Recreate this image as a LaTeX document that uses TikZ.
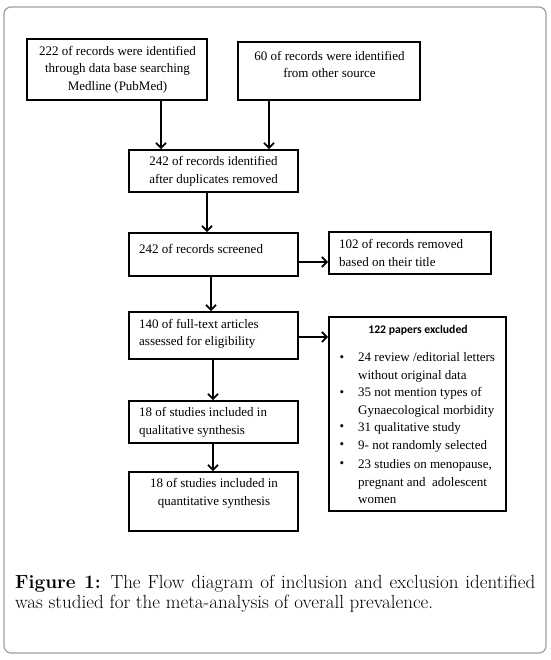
\documentclass[tikz,border=0pt]{standalone}
\usepackage{fontspec}
\setmainfont{Liberation Serif}
\newfontfamily\titlefont{Carlito}
\newfontfamily\capfont{Latin Modern Roman}
\usetikzlibrary{arrows.meta,calc}
\begin{document}
\begin{tikzpicture}[x=1pt,y=-1pt,
  box/.style={draw=black, line width=1.8pt, rectangle, inner sep=0pt},
  txt/.style={inner sep=0pt, font=\fontsize{13}{17.5}\selectfont},
  ctxt/.style={txt, align=center},
  ltxt/.style={txt, align=left, anchor=west},
  arr/.style={line width=1.8pt, -{Straight Barb[length=5pt,width=10pt,line width=1.8pt]}},
  bul/.style={inner sep=0pt, font=\fontsize{13}{17.5}\selectfont}
]
\useasboundingbox (0,0) rectangle (550,660);
\fill[white] (0,0) rectangle (550,660);
\draw[gray!75, line width=1.2pt, rounded corners=7pt] (4,7) rectangle (546,653);

% boxes
\node[box, minimum width=180pt, minimum height=61pt] (A) at (117,69.5) {};
\node[box, minimum width=182pt, minimum height=58pt] (B) at (329,71) {};
\node[box, minimum width=169pt, minimum height=42pt] (C) at (213.5,171) {};
\node[box, minimum width=169pt, minimum height=43pt] (D) at (213.5,254.5) {};
\node[box, minimum width=162pt, minimum height=42pt] (E) at (410,253) {};
\node[box, minimum width=169pt, minimum height=47pt] (F) at (213.5,335.5) {};
\node[box, minimum width=177pt, minimum height=194pt] (G) at (417.5,414) {};
\node[box, minimum width=169pt, minimum height=42pt] (H) at (213.5,422) {};
\node[box, minimum width=169pt, minimum height=59pt] (I) at (213.5,501.5) {};

% texts
\node[ctxt] (tA) at (117.5,69.7) {222 of records were identified\\through data base searching\\Medline (PubMed)};
\node[ctxt] (tB) at (329.5,64.5) {60 of records were identified\\from other source};
\node[ctxt] (tC) at (213.5,171.5) {242 of records identified\\after duplicates removed};
\node[ltxt] (tD) at (139,249) {242 of records screened};
\node[ltxt] (tE) at (339,253) {102 of records removed\\based on their title};
\node[ltxt] (tF) at (139,334) {140 of full-text articles\\assessed for eligibility};
\node[ltxt] (tH) at (139,422.5) {18 of studies included in\\qualitative synthesis};
\node[ctxt] (tI) at (214,493.5) {18 of studies included in\\quantitative synthesis};

\node[inner sep=0pt, font=\titlefont\bfseries\fontsize{11.7}{14}\selectfont] (tG) at (418,330) {122 papers excluded};
\node[ltxt] (g1) at (358,367.5) {24 review /editorial letters\\without original data};
\node[ltxt] (g2) at (358,402.5) {35 not mention types of\\Gynaecological morbidity};
\node[ltxt] (g3) at (358,428) {31 qualitative study};
\node[ltxt] (g4) at (358,446) {9- not randomly selected};
\node[ltxt] (g5) at (358,482) {23 studies on menopause,\\pregnant and\ \ adolescent\\women};
\node[bul] (b1) at (342,359) {•};
\node[bul] (b2) at (342,394) {•};
\node[bul] (b3) at (342,428) {•};
\node[bul] (b4) at (342,446) {•};
\node[bul] (b5) at (342,465) {•};

% connectors
\draw[arr] ([xshift=44pt]A.south) -- ([xshift=44pt]A.south |- C.north);
\draw[arr] ([xshift=-60pt]B.south) -- ([xshift=-60pt]B.south |- C.north);
\draw[arr] ([xshift=-6.5pt]C.south) -- ([xshift=-6.5pt]C.south |- D.north);
\draw[arr] ([yshift=-7.5pt]D.east) -- ([yshift=-7.5pt]D.east -| E.west);
\draw[arr] ([xshift=-2.5pt]D.south) -- ([xshift=-2.5pt]D.south |- F.north);
\draw[arr] ([yshift=-1.5pt]F.east) -- ([yshift=-1.5pt]F.east -| G.west);
\draw[arr] ([xshift=-0.5pt]F.south) -- ([xshift=-0.5pt]F.south |- H.north);
\draw[arr] ([xshift=-0.5pt]H.south) -- ([xshift=-0.5pt]H.south |- I.north);

% caption
\node[inner sep=0pt, anchor=north west] (cap) at (15,575) {\parbox{520pt}{\capfont\fontsize{19}{19.5}\selectfont\textbf{Figure 1:} The Flow diagram of inclusion and exclusion identified\linebreak was studied for the meta-analysis of overall prevalence.}};
\end{tikzpicture}
\end{document}
